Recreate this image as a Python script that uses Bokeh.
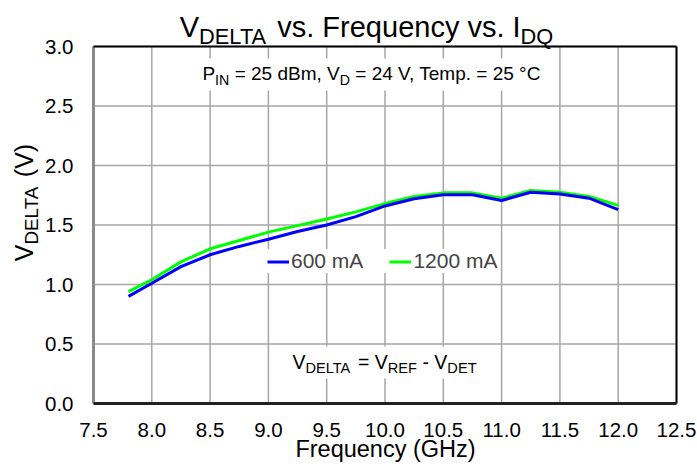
import math
from bokeh.plotting import figure
from bokeh.models import Range1d, Label, BoxAnnotation, Legend, LegendItem
from bokeh.core.properties import value
from bokeh.embed import file_html
from bokeh.resources import INLINE

# ---------------- data ----------------
freq_ghz = [7.8, 8.0, 8.25, 8.5, 8.75, 9.0, 9.25, 9.5, 9.75, 10.0,
            10.25, 10.5, 10.75, 11.0, 11.25, 11.5, 11.75, 12.0]
vdelta_600ma = [0.90, 1.01, 1.15, 1.25, 1.32, 1.38, 1.445, 1.50, 1.57, 1.66,
                1.72, 1.755, 1.755, 1.706, 1.775, 1.76, 1.725, 1.63]
vdelta_1200ma = [0.94, 1.04, 1.19, 1.30, 1.37, 1.44, 1.495, 1.55, 1.61, 1.68,
                 1.74, 1.77, 1.77, 1.725, 1.79, 1.775, 1.74, 1.665]
series_labels = ["600 mA", "1200 mA"]
x_ticks = [7.5, 8.0, 8.5, 9.0, 9.5, 10.0, 10.5, 11.0, 11.5, 12.0, 12.5]
y_ticks = [0.0, 0.5, 1.0, 1.5, 2.0, 2.5, 3.0]

FONT = "Liberation Sans"
MID = 0.35  # cap-centre height above the baseline, in em

# ---------------- geometry (pixels) ----------------
W, H = 697, 466
PL, PR, PT, PB = 93, 676, 46, 403   # plot-area box inside the canvas
x0, x1 = x_ticks[0], x_ticks[-1]
y0, y1 = y_ticks[0], y_ticks[-1]
kx = (PR - PL) / (x1 - x0)
ky = (PB - PT) / (y1 - y0)
x_range = Range1d(x0 - PL / kx, x1 + (W - PR) / kx)
y_range = Range1d(y0 - (H - PB) / ky, y1 + PT / ky)

p = figure(width=W, height=H, output_backend="svg", toolbar_location=None,
           x_range=x_range, y_range=y_range,
           x_axis_location=None, y_axis_location=None,
           min_border=0, min_border_left=0, min_border_right=0,
           min_border_top=0, min_border_bottom=0)
p.outline_line_color = None
p.xgrid.visible = False
p.ygrid.visible = False
p.background_fill_color = "white"
p.border_fill_color = "white"

# grid lines
p.segment(x0=x_ticks, y0=[y0] * len(x_ticks), x1=x_ticks, y1=[y1] * len(x_ticks),
          line_color="#a6a6a6", line_width=1.5)
p.segment(x0=[x0] * len(y_ticks), y0=y_ticks, x1=[x1] * len(y_ticks), y1=y_ticks,
          line_color="#a6a6a6", line_width=1.5)

# tick labels
TICK = 20.5
p.text(x=x_ticks, y=[y0] * len(x_ticks), text=[f"{t:.1f}" for t in x_ticks],
       text_font=value(FONT), text_font_size=f"{TICK}px", text_color="black",
       text_align="center", text_baseline="middle", y_offset=437 - PB - MID * TICK)
p.text(x=[x0] * len(y_ticks), y=y_ticks, text=[f"{t:.1f}" for t in y_ticks],
       text_font=value(FONT), text_font_size=f"{TICK}px", text_color="black",
       text_align="right", text_baseline="middle", x_offset=-20, y_offset=0)

# ---------------- series ----------------
r_green = p.line(freq_ghz, vdelta_1200ma, line_color="#00ff00", line_width=3)
r_blue = p.line(freq_ghz, vdelta_600ma, line_color="#0000ff", line_width=3)

# frame lines
p.segment(x0=[x0], y0=[y0], x1=[x0], y1=[y1], line_color="#8a8a8a", line_width=3)
p.segment(x0=[x0, x1], y0=[y1, y0], x1=[x1, x1], y1=[y1, y1], line_color="black", line_width=2)
p.segment(x0=[x0], y0=[y0], x1=[x1], y1=[y0], line_color="#222222", line_width=3)

legend = Legend(items=[LegendItem(label=series_labels[0], renderers=[r_blue]),
                       LegendItem(label=series_labels[1], renderers=[r_green])],
                orientation="horizontal", location=(267, H - 273),
                label_text_font=FONT, label_text_font_size="21px",
                glyph_width=22, glyph_height=21, label_height=21,
                label_standoff=2, spacing=26, padding=3, margin=0,
                border_line_color=None, background_fill_color="white",
                background_fill_alpha=1.0)
p.add_layout(legend, "center")

# ---------------- rich text (subscripts) ----------------
AW = {' ': 278, '(': 333, ')': 333, '-': 333, '.': 278, ',': 278, '=': 584,
      '°': 400, 'A': 667, 'B': 667, 'C': 722, 'D': 722, 'E': 667, 'F': 611,
      'G': 778, 'H': 722, 'I': 278, 'L': 556, 'M': 833, 'N': 722, 'P': 667,
      'Q': 778, 'R': 722, 'T': 611, 'V': 667, 'a': 556, 'b': 556, 'c': 500,
      'd': 556, 'e': 556, 'm': 833, 'n': 556, 'p': 556, 'q': 556, 'r': 333,
      's': 500, 'u': 556, 'v': 500, 'y': 500, 'z': 500}
for d in "0123456789":
    AW[d] = 556


def tw(s, size):
    return sum(AW.get(c, 556) for c in s) * size / 1000.0


def rich(pieces, size, cx, cy, angle=0.0, sub_ratio=0.75, sub_drop=0.22):
    """pieces: (text, is_sub). cx: centre along the text, cy: baseline, in canvas px."""
    ssz = size * sub_ratio
    widths = [tw(t, ssz if s else size) for t, s in pieces]
    pos = -sum(widths) / 2.0
    for (t, s), w in zip(pieces, widths):
        sz = ssz if s else size
        lead = len(t) - len(t.lstrip(" "))
        off = pos + tw(" " * lead, sz)
        drop = size * sub_drop if s else 0.0
        mid = cy + drop - MID * sz          # cap centre of this piece
        if angle == 0:
            x, y = cx + off, H - mid
        else:  # rotated 90 degrees, reading bottom -> top
            x, y = mid, H - (cx - off)
        p.add_layout(Label(x=x, y=y, x_units="screen", y_units="screen",
                           text=t.strip(" "), text_font=FONT,
                           text_font_size=f"{sz:.1f}px", text_color="black",
                           text_align="left", text_baseline="middle",
                           angle=angle))
        pos += w


def blank(left, right, top, bottom):
    p.add_layout(BoxAnnotation(left=left, right=right, bottom=H - bottom, top=H - top,
                               left_units="screen", right_units="screen",
                               bottom_units="screen", top_units="screen",
                               fill_color="white", fill_alpha=1.0, line_alpha=0))


blank(195, 551, 58, 90)
blank(283, 485, 346, 378)

# title
rich([("V", 0), ("DELTA", 1), (" vs. Frequency vs. ", 0), ("I", 0), ("DQ", 1)],
     29, 366, 37)
# conditions
rich([("P", 0), ("IN", 1), (" = 25 dBm, V", 0), ("D", 1),
      (" = 24 V, Temp. = 25 °C", 0)], 19, 373, 80)
# definition
rich([("V", 0), ("DELTA", 1), (" = V", 0), ("REF", 1), (" - V", 0), ("DET", 1)],
     19.5, 384, 368)
# x axis label
rich([("Frequency (GHz)", 0)], 23.5, 385, 457)
# y axis label (rotated)
rich([("V", 0), ("DELTA", 1), (" (V)", 0)], 25, 202, 32, angle=math.pi / 2)

with open("out.html", "w") as f:
    f.write(file_html(p, INLINE))
